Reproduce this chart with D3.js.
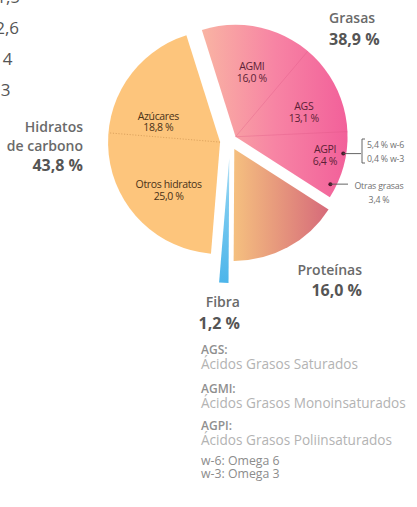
<!DOCTYPE html>
<html>
<head>
<meta charset="utf-8">
<script src="https://cdn.jsdelivr.net/npm/d3@7"></script>
<style>
  html, body { margin: 0; padding: 0; background: #fff; }
  svg { display: block; font-family: "Open Sans", "DejaVu Sans", sans-serif; }
</style>
</head>
<body>
<svg id="chart" width="417" height="507"></svg>
<script>
// Main groups of the energy intake pie (percent of total energy)
const groups = ["Grasas", "Proteínas", "Fibra", "Hidratos de carbono"];
const groupValues = [38.9, 16.0, 1.2, 43.8];
const groupLabels = ["38,9 %", "16,0 %", "1,2 %", "43,8 %"];

// Breakdown of fats
const fatParts = ["AGMI", "AGS", "AGPI", "Otras grasas"];
const fatValues = [16.0, 13.1, 6.4, 3.4];
const fatLabels = ["16,0 %", "13,1 %", "6,4 %", "3,4 %"];

// Breakdown of carbohydrates (clockwise order)
const carbParts = ["Otros hidratos", "Azúcares"];
const carbValues = [25.0, 18.8];
const carbLabels = ["25,0 %", "18,8 %"];

// Polyunsaturated fatty acids split
const pufaParts = ["w-6", "w-3"];
const pufaValues = [5.4, 0.4];
const pufaLabels = ["5,4 % w-6", "0,4 % w-3"];

// Legend entries
const legendTerms = ["AGS:", "AGMI:", "AGPI:"];
const legendDefs = ["Ácidos Grasos Saturados", "Ácidos Grasos Monoinsaturados", "Ácidos Grasos Poliinsaturados"];
const omegaNotes = ["w-6: Omega 6", "w-3: Omega 3"];

// Neighbouring column values partly outside the view
const sideValues = ["11,5", "12,6", "14", "13"];

const svg = d3.select("#chart");
const deg = Math.PI / 180;
const cx = 230, cy = 141;
const startA = -17.5 * deg;

const explode = [7, 9, 17, 10];
const radius = [112, 112, 125, 112];

const pie = d3.pie().sort(null).value(d => d)
  .startAngle(startA).endAngle(startA + 2 * Math.PI);
const slices = pie(groupValues);

const offset = (a, d) => [Math.sin(a) * d, -Math.cos(a) * d];
const vertex = slices.map((s, i) => {
  const m = (s.startAngle + s.endAngle) / 2;
  const o = offset(m, explode[i]);
  return [cx + o[0], cy + o[1]];
});

// Gradients (relative to each slice's bounding box)
const defs = svg.append("defs");
function grad(id, x2, y2, stops) {
  const g = defs.append("linearGradient").attr("id", id)
    .attr("x1", 0).attr("y1", 0).attr("x2", x2).attr("y2", y2);
  stops.forEach(s => g.append("stop").attr("offset", s[0]).attr("stop-color", s[1]));
}
grad("gFat", 1, 0, [[0, "#f9b4a3"], [0.5, "#f784a4"], [1, "#f2609a"]]);
grad("gProt", 1, 0, [[0, "#f5c07f"], [1, "#d66a7a"]]);
grad("gFib", 0, 1, [[0, "#b4e0f5"], [0.35, "#7ccbf0"], [1, "#4db5ea"]]);

const fills = ["url(#gFat)", "url(#gProt)", "url(#gFib)", "#fdc57c"];

// Group slices
slices.forEach((s, i) => {
  const arc = d3.arc().innerRadius(0).outerRadius(radius[i]);
  svg.append("path")
    .attr("transform", `translate(${vertex[i][0]},${vertex[i][1]})`)
    .attr("d", arc(s))
    .attr("fill", fills[i]);
});

// Sub-slices of fats and carbohydrates
const fatSlices = d3.pie().sort(null).value(d => d)
  .startAngle(slices[0].startAngle).endAngle(slices[0].endAngle)(fatValues);
const carbSlices = d3.pie().sort(null).value(d => d)
  .startAngle(slices[3].startAngle).endAngle(slices[3].endAngle)(carbValues);

const radial = (v, a, r0, r1) => {
  const p0 = offset(a, r0), p1 = offset(a, r1);
  return [v[0] + p0[0], v[1] + p0[1], v[0] + p1[0], v[1] + p1[1]];
};

// Thin dividers between fat types
fatSlices.slice(0, 2).forEach(s => {
  const l = radial(vertex[0], s.endAngle, 0, radius[0]);
  svg.append("line").attr("x1", l[0]).attr("y1", l[1]).attr("x2", l[2]).attr("y2", l[3])
    .attr("stroke", "#d9507e").attr("stroke-opacity", 0.4).attr("stroke-width", 0.7);
});
// Dotted divider between sugars and other carbohydrates
{
  const l = radial(vertex[3], carbSlices[0].endAngle, 0, radius[3]);
  svg.append("line").attr("x1", l[0]).attr("y1", l[1]).attr("x2", l[2]).attr("y2", l[3])
    .attr("stroke", "#d49a55").attr("stroke-width", 0.8).attr("stroke-dasharray", "1.2,1.6");
}

// Inner labels
function inner(v, a, r, name, val, color) {
  const p = offset(a, r);
  const t = svg.append("text").attr("text-anchor", "middle")
    .attr("font-size", 10.5).attr("letter-spacing", -0.35).attr("fill", color);
  t.append("tspan").attr("x", v[0] + p[0]).attr("y", v[1] + p[1] - 0.5).text(name);
  t.append("tspan").attr("x", v[0] + p[0]).attr("y", v[1] + p[1] + 11).text(val);
}
const fatLabelR = [68, 73, 91];
const fatLabelShift = [2.5, 5.5, 1.8];
fatSlices.slice(0, 3).forEach((s, i) => {
  const m = (s.startAngle + s.endAngle) / 2 + fatLabelShift[i] * deg;
  inner(vertex[0], m, fatLabelR[i], fatParts[i], fatLabels[i], "#5c1f36");
});
const carbLabelR = [69.5, 65.5];
const carbLabelShift = [-2, -19];
carbSlices.forEach((s, i) => {
  const m = (s.startAngle + s.endAngle) / 2 + carbLabelShift[i] * deg;
  inner(vertex[3], m, carbLabelR[i], carbParts[i], carbLabels[i], "#4a3218");
});

// Callout for AGPI (omega split)
{
  const s = fatSlices[2];
  const m = (s.startAngle + s.endAngle) / 2;
  const p = offset(m, 109);
  const x0 = vertex[0][0] + p[0], y0 = vertex[0][1] + p[1];
  svg.append("circle").attr("cx", x0).attr("cy", y0).attr("r", 2).attr("fill", "#4a1a2a");
  svg.append("line").attr("x1", x0).attr("y1", y0).attr("x2", 361).attr("y2", y0)
    .attr("stroke", "#555").attr("stroke-width", 0.9);
  svg.append("path").attr("d", `M365,139 H362 V163 H365`).attr("fill", "none")
    .attr("stroke", "#555").attr("stroke-width", 0.9);
  pufaLabels.forEach((t, i) => {
    svg.append("text").attr("x", 367).attr("y", 148 + i * 13.5)
      .attr("font-size", 8.8).attr("letter-spacing", -0.2).attr("fill", "#707070").text(t);
  });
}
// Callout for other fats
{
  const s = fatSlices[3];
  const m = (s.startAngle + s.endAngle) / 2;
  const p = offset(m, 106);
  const x0 = vertex[0][0] + p[0], y0 = vertex[0][1] + p[1];
  svg.append("circle").attr("cx", x0).attr("cy", y0).attr("r", 2).attr("fill", "#4a1a2a");
  svg.append("line").attr("x1", x0).attr("y1", y0).attr("x2", 348).attr("y2", y0)
    .attr("stroke", "#555").attr("stroke-width", 0.9);
  svg.append("text").attr("x", 379).attr("y", 189).attr("text-anchor", "middle")
    .attr("font-size", 8.8).attr("letter-spacing", -0.2).attr("fill", "#707070").text(fatParts[3]);
  svg.append("text").attr("x", 379).attr("y", 203).attr("text-anchor", "middle")
    .attr("font-size", 8.8).attr("letter-spacing", -0.2).attr("fill", "#707070").text(fatLabels[3]);
}

// Outer group labels
function groupLabel(x, anchor, yName, yVal, lines, val) {
  lines.forEach((ln, k) => {
    svg.append("text").attr("x", x).attr("y", yName + k * 18.5).attr("text-anchor", anchor)
      .attr("font-size", 14).attr("font-weight", 600).attr("fill", "#6a6a6a").text(ln);
  });
  svg.append("text").attr("x", x).attr("y", yVal).attr("text-anchor", anchor)
    .attr("font-size", 16).attr("font-weight", 700).attr("fill", "#555").text(val);
}
groupLabel(329, "start", 22.5, 45, [groups[0]], groupLabels[0]);
groupLabel(362, "end", 275, 295.5, [groups[1]], groupLabels[1]);
groupLabel(240, "end", 307, 329, [groups[2]], groupLabels[2]);
groupLabel(83, "end", 132, 170.5, ["Hidratos", "de carbono"], groupLabels[3]);

// Legend
const legY = [353.5, 392.5, 429.5];
legendTerms.forEach((t, i) => {
  svg.append("text").attr("x", 201).attr("y", legY[i])
    .attr("font-size", 12).attr("font-weight", 600).attr("fill", "#8f8f8f").text(t);
  svg.append("text").attr("x", 201).attr("y", legY[i] + 15.5)
    .attr("font-size", 13.6).attr("fill", "#b3b3b3").text(legendDefs[i]);
});
omegaNotes.forEach((t, i) => {
  svg.append("text").attr("x", 201).attr("y", 465 + i * 12.5)
    .attr("font-size", 12.3).attr("fill", "#8c8c8c").text(t);
});

// Partially visible values at the left edge
const sideX = [20, 19, 12.5, 10.5];
const sideY = [3, 34, 65, 96];
sideValues.forEach((t, i) => {
  svg.append("text").attr("x", sideX[i]).attr("y", sideY[i]).attr("text-anchor", "end")
    .attr("font-size", 17).attr("fill", "#555").text(t);
});
</script>
</body>
</html>
